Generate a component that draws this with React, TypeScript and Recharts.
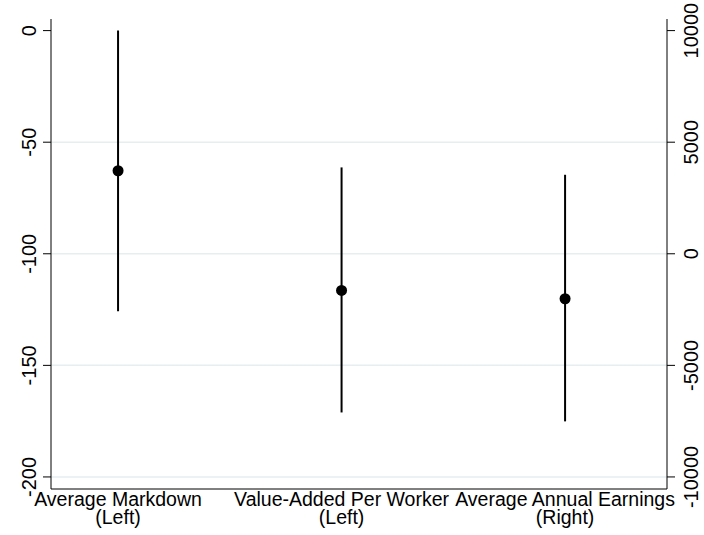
import React from "react";
import {
  ComposedChart,
  Scatter,
  ErrorBar,
  XAxis,
  YAxis,
  ReferenceLine,
} from "recharts";

// estimates and 95% CIs
const categories = ["Average Markdown", "Value-Added Per Worker", "Average Annual Earnings"];
const sides = ["(Left)", "(Left)", "(Right)"];
const positions = [1, 2, 3];
const estimates = [-62.8, -116.4, -2015];
const lower = [-125.8, -171.1, -7510];
const upper = [0, -61.3, 3540];
const axisSide = ["left", "left", "right"];

const leftTicks = [0, -50, -100, -150, -200];
const rightTicks = [10000, 5000, 0, -5000, -10000];
const gridLines = [-50, -100, -150, -200];

const rows = positions.map((x, i) => ({
  x,
  y: estimates[i],
  err: [estimates[i] - lower[i], upper[i] - estimates[i]],
  side: axisSide[i],
}));
const leftRows = rows.filter((r) => r.side === "left");
const rightRows = rows.filter((r) => r.side === "right");

const FONT = "'Liberation Sans', Arial, Helvetica, sans-serif";

const LeftTick = (props: any) => {
  const { x, y, payload } = props;
  const bx = x - 5;
  return (
    <text x={bx} y={y} transform={`rotate(-90, ${bx}, ${y})`} textAnchor="middle"
      fontSize={20} fontFamily={FONT} fill="#000">
      {payload.value}
    </text>
  );
};

const RightTick = (props: any) => {
  const { x, y, payload } = props;
  const bx = x + 21;
  return (
    <text x={bx} y={y} transform={`rotate(-90, ${bx}, ${y})`} textAnchor="middle"
      fontSize={20} fontFamily={FONT} fill="#000">
      {payload.value}
    </text>
  );
};

const CatTick = (props: any) => {
  const { x, y, payload } = props;
  const i = positions.indexOf(payload.value);
  if (i < 0) return null;
  return (
    <g>
      <text x={x} y={y + 9} textAnchor="middle" fontSize={19.5} fontFamily={FONT} fill="#000">
        {categories[i]}
      </text>
      <text x={x} y={y + 27} textAnchor="middle" fontSize={19.5} fontFamily={FONT} fill="#000">
        {sides[i]}
      </text>
    </g>
  );
};

const Dot = (p: any) => <circle cx={p.cx} cy={p.cy} r={5.5} fill="#000" />;

export default function App() {
  return (
    <div style={{ position: "absolute", left: 0, top: 0, background: "#fff" }}>
      <ComposedChart width={704} height={535} margin={{ top: 19, right: 0, bottom: 0, left: 0 }}>
        <XAxis
          dataKey="x"
          type="number"
          domain={[0.7, 3.456]}
          allowDataOverflow
          ticks={positions}
          interval={0}
          tickLine={false}
          axisLine={{ stroke: "#000" }}
          tick={<CatTick />}
          height={46}
        />
        <YAxis
          yAxisId="left"
          orientation="left"
          type="number"
          domain={[-205.4, 5.2]}
          allowDataOverflow
          ticks={leftTicks}
          interval={0}
          width={51}
          tickSize={8}
          tickLine={{ stroke: "#000" }}
          axisLine={{ stroke: "#000" }}
          tick={<LeftTick />}
        />
        <YAxis
          yAxisId="right"
          orientation="right"
          type="number"
          domain={[-10540, 10520]}
          allowDataOverflow
          ticks={rightTicks}
          interval={0}
          width={37}
          tickSize={8}
          tickLine={{ stroke: "#000" }}
          axisLine={{ stroke: "#000" }}
          tick={<RightTick />}
        />
        {gridLines.map((g) => (
          <ReferenceLine key={g} yAxisId="left" y={g} stroke="#e6eef0" strokeWidth={1.5} />
        ))}
        <Scatter data={leftRows} dataKey="y" yAxisId="left" shape={<Dot />} isAnimationActive={false}>
          <ErrorBar dataKey="err" direction="y" width={0} stroke="#000" strokeWidth={2} isAnimationActive={false} />
        </Scatter>
        <Scatter data={rightRows} dataKey="y" yAxisId="right" shape={<Dot />} isAnimationActive={false}>
          <ErrorBar dataKey="err" direction="y" width={0} stroke="#000" strokeWidth={2} isAnimationActive={false} />
        </Scatter>
      </ComposedChart>
    </div>
  );
}
